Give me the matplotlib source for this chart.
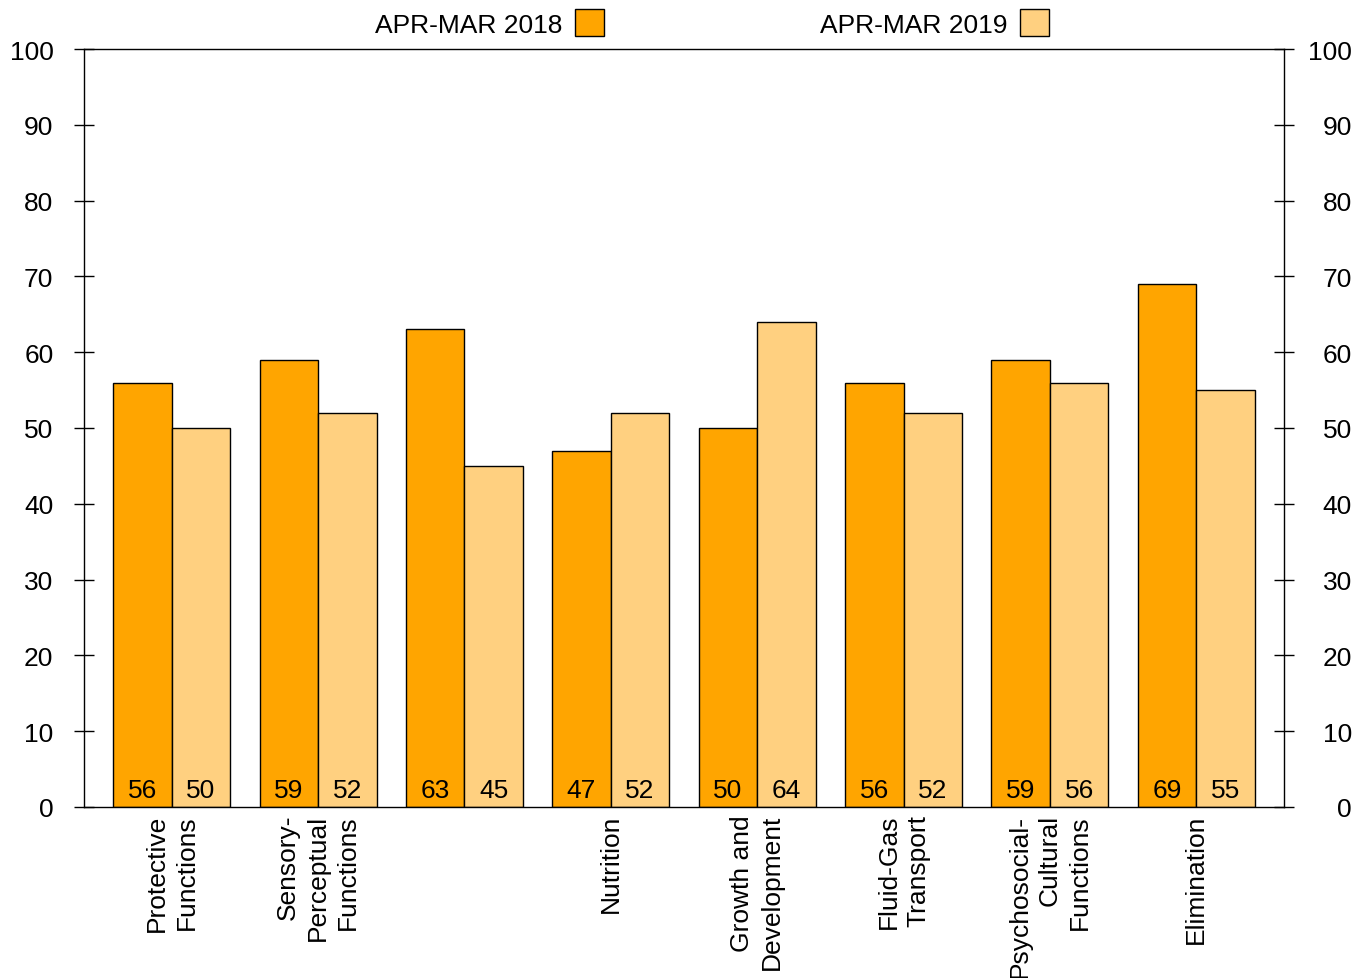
import numpy as np
import matplotlib.pyplot as plt
import matplotlib.transforms as mtransforms

plt.rcParams['font.family'] = ['Liberation Sans', 'DejaVu Sans']

# categories and yearly values
categories = ["Protective\nFunctions", "Sensory-\nPerceptual\nFunctions", "",
              "Nutrition", "Growth and\nDevelopment", "Fluid-Gas\nTransport",
              "Psychosocial-\nCultural\nFunctions", "Elimination"]
vals_2018 = [56, 59, 63, 47, 50, 56, 59, 69]
vals_2019 = [50, 52, 45, 52, 64, 52, 56, 55]
series_names = ["APR-MAR 2018", "APR-MAR 2019"]
yticks = [0, 10, 20, 30, 40, 50, 60, 70, 80, 90, 100]

c18 = "#FFA500"
c19 = "#FFD080"
fs = 19

fig = plt.figure(figsize=(13.7, 9.79), dpi=100)
ax = fig.add_axes([84/1370, 1 - 808/979, 1200/1370, 758/979])

x = np.arange(len(categories))
w = 0.4
b1 = ax.bar(x - w/2, vals_2018, w, color=c18, edgecolor="black", linewidth=1, label=series_names[0])
b2 = ax.bar(x + w/2, vals_2019, w, color=c19, edgecolor="black", linewidth=1, label=series_names[1])

# value labels sitting at the foot of each bar
for bars, vals in [(b1, vals_2018), (b2, vals_2019)]:
    for r, v in zip(bars, vals):
        ax.annotate(str(v), (r.get_x() + r.get_width()/2, 0), xytext=(0, 7),
                    textcoords="offset points", ha="center", va="baseline", fontsize=fs)

ax.set_xlim(-0.6, len(categories) - 0.4)
ax.set_ylim(0, 100)
ax.set_yticks(yticks)
ax.set_xticks(x)
ax.set_xticklabels(categories, rotation=90, ha="center", va="top",
                   multialignment="right", fontsize=fs, linespacing=1.32)
ax.tick_params(axis="x", length=0, pad=5)
ax.tick_params(axis="y", direction="inout", length=14, width=1, labelsize=fs,
               left=True, right=True, labelleft=True, labelright=True, pad=15)

# right-hand labels end flush at a common edge
offset = mtransforms.ScaledTranslation(27/72, 0, fig.dpi_scale_trans)
for t in ax.yaxis.get_major_ticks():
    t.label2.set_horizontalalignment("right")
    t.label2.set_transform(t.label2.get_transform() + offset)

for s in ax.spines.values():
    s.set_linewidth(1)
    s.set_color("black")

fig.legend(handles=[b1, b2], labels=series_names, loc="center",
           bbox_to_anchor=(712/1370, 1 - 24/979), ncol=2, frameon=False,
           markerfirst=False, fontsize=fs, handlelength=1.1, handleheight=1.15,
           handletextpad=0.45, columnspacing=8.2, borderpad=0)

fig.savefig("out.png", dpi=100)
